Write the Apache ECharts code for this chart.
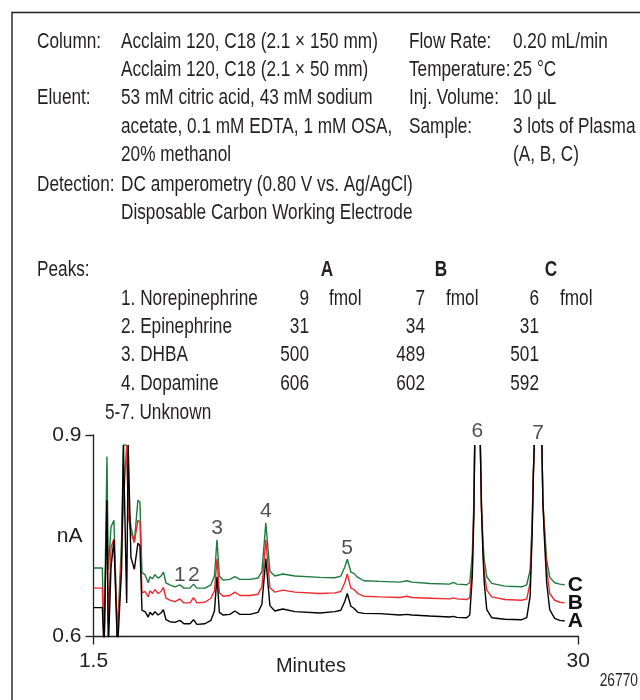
<!DOCTYPE html>
<html>
<head>
<meta charset="utf-8">
<script src="https://cdn.jsdelivr.net/npm/echarts@6/dist/echarts.min.js"></script>
<style>html,body{margin:0;padding:0;background:#fff}#c{width:640px;height:700px}</style>
</head>
<body>
<div id="c"></div>
<script>
// ---------- data ----------
const conditionsLeft = [
  ['Column:', 'Acclaim 120, C18 (2.1 \u00d7 150 mm)'],
  ['', 'Acclaim 120, C18 (2.1 \u00d7 50 mm)'],
  ['Eluent:', '53 mM citric acid, 43 mM sodium'],
  ['', 'acetate, 0.1 mM EDTA, 1 mM OSA,'],
  ['', '20% methanol'],
  ['Detection:', 'DC amperometry (0.80 V vs. Ag/AgCl)'],
  ['', 'Disposable Carbon Working Electrode']
];
const conditionsRight = [
  ['Flow Rate:', '0.20 mL/min'],
  ['Temperature:', '25 \u00b0C'],
  ['Inj. Volume:', '10 \u00b5L'],
  ['Sample:', '3 lots of Plasma'],
  ['', '(A, B, C)']
];
const sampleNames = ['A', 'B', 'C'];
const peakNames = ['1. Norepinephrine', '2. Epinephrine', '3. DHBA', '4. Dopamine'];
const amountA = [9, 31, 500, 606];
const amountB = [7, 34, 489, 602];
const amountC = [6, 31, 501, 592];
const amountUnit = 'fmol';
const unknownNote = '5-7. Unknown';
const figureId = '26770';

const xTicks = [1.5, 30];
const yTicks = [0.6, 0.9];

// retention time (min)
const times = [1.50,2.02,2.12,2.29,2.37,2.53,2.70,2.91,3.15,3.26,3.45,3.54,3.70,3.90,4.11,4.23,4.35,4.53,4.72,
  4.82,4.97,5.11,5.29,5.47,5.61,5.76,5.99,6.29,6.58,6.82,7.17,7.38,7.58,8.05,8.40,8.61,8.76,
  8.90,9.11,9.52,9.81,10.11,10.70,11.17,11.40,11.63,11.87,12.16,12.63,13.34,14.81,15.69,16.04,16.27,16.42,16.63,16.81,
  17.04,17.39,18.33,19.51,19.92,20.21,21.27,22.44,22.65,22.86,23.44,23.62,23.77,23.86,23.91,24.07,24.24,24.31,24.39,24.47,
  24.62,24.91,25.68,26.68,26.97,27.17,27.29,27.35,27.41,27.63,27.86,27.92,27.99,28.14,28.32,28.61,28.91,29.20];
// nA ('-' = off scale)
const traceC = [0.702,0.702,0.58,0.868,0.70,0.763,0.773,0.60,0.744,0.885,0.885,0.80,0.763,0.74,0.803,0.80,0.695,0.692,0.680,
  0.689,0.686,0.692,0.687,0.690,0.696,0.680,0.677,0.674,0.677,0.672,0.672,0.678,0.672,0.672,0.677,0.690,0.744,
  0.690,0.684,0.685,0.689,0.685,0.685,0.687,0.697,0.769,0.697,0.690,0.693,0.690,0.688,0.6875,0.690,0.703,0.715,0.696,0.694,
  0.688,0.683,0.682,0.681,0.683,0.681,0.679,0.678,0.6805,0.678,0.677,0.680,0.724,0.799,0.885,'-',0.885,0.790,0.745,0.714,
  0.689,0.679,0.675,0.674,0.677,0.699,0.773,0.840,0.885,'-',0.885,0.800,0.773,0.714,0.688,0.680,0.678,0.677];
const traceB = [0.672,0.672,0.58,0.80,0.62,0.733,0.745,0.60,0.72,0.80,0.885,0.78,0.755,0.74,0.773,0.77,0.665,0.667,0.659,
  0.668,0.664,0.670,0.664,0.667,0.673,0.657,0.654,0.652,0.656,0.650,0.650,0.658,0.650,0.651,0.657,0.668,0.716,
  0.665,0.660,0.661,0.666,0.661,0.661,0.663,0.674,0.744,0.673,0.666,0.669,0.666,0.664,0.665,0.667,0.680,0.693,0.672,0.670,
  0.664,0.660,0.659,0.658,0.660,0.658,0.657,0.656,0.6575,0.656,0.655,0.658,0.705,0.790,0.885,'-',0.885,0.790,0.735,0.695,
  0.669,0.659,0.655,0.654,0.656,0.680,0.765,0.835,0.885,'-',0.885,0.800,0.765,0.700,0.664,0.654,0.651,0.650];
const traceA = [0.643,0.643,0.58,0.803,0.58,0.703,0.744,0.58,0.70,0.885,0.65,0.885,0.718,0.70,0.739,0.735,0.639,0.637,0.629,
  0.636,0.632,0.637,0.632,0.635,0.640,0.625,0.622,0.621,0.624,0.619,0.619,0.625,0.618,0.619,0.624,0.638,0.689,
  0.636,0.632,0.633,0.638,0.633,0.633,0.636,0.648,0.716,0.646,0.638,0.641,0.637,0.635,0.637,0.639,0.652,0.664,0.645,0.642,
  0.636,0.6345,0.634,0.632,0.633,0.632,0.6305,0.629,0.630,0.6285,0.628,0.632,0.690,0.780,0.885,'-',0.885,0.790,0.725,0.680,
  0.640,0.628,0.6256,0.625,0.628,0.660,0.755,0.830,0.885,'-',0.885,0.800,0.755,0.680,0.640,0.627,0.624,0.623];

// peak number labels
const peakLabelNames = ['1', '2', '3', '4', '5', '6', '7'];
const peakLabelTimes = [6.58, 7.40, 8.76, 11.63, 16.41, 24.07, 27.63];
const peakLabelValues = [0.692, 0.692, 0.7615, 0.787, 0.732, 0.905, 0.903];

// ---------- styles ----------
const FONT = '"Liberation Sans", Arial, sans-serif';
const TXT = '#231f20';
const FS = 22.5;
const NARROW = 0.765;
const COLORS = { A: '#000000', B: '#ee2a2e', C: '#1f7a3c' };

function txt(text, x, y, opts) {
  opts = opts || {};
  return {
    type: 'text', x: x, y: y, silent: true, scaleX: opts.scale || NARROW,
    style: {
      text: text, fill: TXT,
      font: (opts.bold ? 'bold ' : '') + (opts.size || FS) + 'px ' + FONT,
      align: opts.align || 'left', verticalAlign: 'middle'
    }
  };
}

const graphics = [];
graphics.push({ type: 'polyline', silent: true, shape: { points: [[12, 700], [12, 12.5], [640, 12.5]] },
  style: { stroke: '#231f20', lineWidth: 1.4, fill: null } });
const rowY = [42, 70, 98, 127, 155, 185, 213];
conditionsLeft.forEach((r, i) => {
  if (r[0]) graphics.push(txt(r[0], 37, rowY[i]));
  graphics.push(txt(r[1], 121, rowY[i]));
});
conditionsRight.forEach((r, i) => {
  if (r[0]) graphics.push(txt(r[0], 409, rowY[i]));
  graphics.push(txt(r[1], 513, rowY[i]));
});
const headerY = 270;
graphics.push(txt('Peaks:', 37, headerY));
const colCenter = [327, 441, 551];
const colRight = [309, 425, 539];
const colUnit = [329, 446, 560];
sampleNames.forEach((s, j) => graphics.push(txt(s, colCenter[j], headerY, { bold: true, align: 'center' })));
const peakRowY = [299, 327, 355, 384];
const amounts = [amountA, amountB, amountC];
peakNames.forEach((n, i) => {
  graphics.push(txt(n, 121, peakRowY[i]));
  amounts.forEach((arr, j) => {
    graphics.push(txt(String(arr[i]), colRight[j], peakRowY[i], { align: 'right' }));
    if (i === 0) graphics.push(txt(amountUnit, colUnit[j], peakRowY[i]));
  });
});
graphics.push(txt(unknownNote, 105, 413));
graphics.push(txt(figureId, 638, 681, { size: 18, align: 'right' }));

function mkSeries(name, arr, z) {
  return {
    type: 'line', name: name, z: z,
    data: times.map((t, i) => [t, arr[i]]),
    symbol: 'none', clip: true, connectNulls: false,
    lineStyle: { color: COLORS[name], width: 1.4 },
    itemStyle: { color: COLORS[name] },
    endLabel: { show: true, formatter: '{a}', color: '#111', fontFamily: FONT, fontWeight: 'bold', fontSize: 21, distance: 3 }
  };
}

const chart = echarts.init(document.getElementById('c'), null, { renderer: 'canvas' });
chart.setOption({
  animation: false,
  backgroundColor: '#fff',
  grid: { left: 93.5, right: 61.7, top: 435, bottom: 63.5, containLabel: false },
  xAxis: {
    type: 'value', min: 1.5, max: 30,
    name: 'Minutes', nameLocation: 'middle', nameGap: 20, nameMoveOverlap: false,
    nameTextStyle: { fontFamily: FONT, fontSize: 20, color: TXT, padding: [0, 50, 0, 0] },
    axisLine: { show: true, lineStyle: { color: TXT, width: 1.3 } },
    axisTick: { show: true, customValues: xTicks, length: 8, lineStyle: { color: TXT, width: 1.3 } },
    axisLabel: { customValues: xTicks, formatter: v => String(v), margin: 14, fontFamily: FONT, fontSize: 21, color: TXT },
    splitLine: { show: false }
  },
  yAxis: {
    type: 'value', min: 0.6, max: 0.9,
    name: 'nA', nameLocation: 'middle', nameRotate: 0, nameGap: 11, nameMoveOverlap: false,
    nameTextStyle: { fontFamily: FONT, fontSize: 21, color: TXT, padding: [12, 0, 0, 0] },
    axisLine: { show: true, lineStyle: { color: TXT, width: 1.3 } },
    axisTick: { show: true, customValues: yTicks, length: 8, lineStyle: { color: TXT, width: 1.3 } },
    axisLabel: { customValues: yTicks, formatter: v => v.toFixed(1), margin: 12, fontFamily: FONT, fontSize: 21, color: TXT },
    splitLine: { show: false }
  },
  series: [
    mkSeries('C', traceC, 2),
    mkSeries('B', traceB, 3),
    mkSeries('A', traceA, 4),
    {
      type: 'scatter', z: 5, clip: false, symbolSize: 0, silent: true,
      data: peakLabelNames.map((n, i) => ({ name: n, value: [peakLabelTimes[i], peakLabelValues[i]] })),
      label: { show: true, position: 'inside', formatter: '{b}', fontFamily: FONT, fontSize: 21, color: TXT }
    }
  ],
  graphic: graphics
});
</script>
</body>
</html>
